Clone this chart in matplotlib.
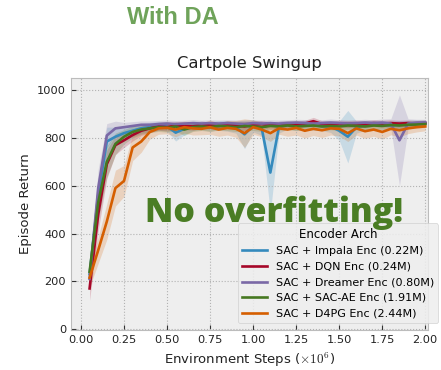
import matplotlib
matplotlib.use('Agg')
import matplotlib.pyplot as plt
import numpy as np

plt.style.use('bmh')

steps = [0.05, 0.10, 0.15, 0.20, 0.25, 0.30, 0.35, 0.40, 0.45, 0.50,
         0.55, 0.60, 0.65, 0.70, 0.75, 0.80, 0.85, 0.90, 0.95, 1.00,
         1.05, 1.10, 1.15, 1.20, 1.25, 1.30, 1.35, 1.40, 1.45, 1.50,
         1.55, 1.60, 1.65, 1.70, 1.75, 1.80, 1.85, 1.90, 1.95, 2.00]

impala_mean = [230, 560, 785, 805, 820, 830, 840, 845, 850, 848,
               822, 838, 850, 852, 848, 852, 850, 845, 815, 850,
               840, 655, 845, 855, 850, 855, 852, 850, 848, 830,
               805, 845, 852, 855, 855, 852, 855, 858, 860, 860]
impala_std = [40, 70, 60, 40, 30, 25, 20, 20, 18, 20,
              35, 25, 20, 18, 20, 20, 22, 25, 60, 25,
              30, 170, 25, 18, 20, 18, 20, 20, 25, 40,
              110, 25, 20, 18, 18, 18, 18, 16, 15, 15]

dqn_mean = [170, 480, 690, 770, 790, 812, 830, 840, 848, 845,
            852, 850, 848, 855, 852, 850, 855, 852, 848, 855,
            858, 852, 855, 858, 856, 860, 870, 858, 856, 860,
            858, 860, 858, 862, 860, 862, 860, 862, 860, 862]
dqn_std = [50, 70, 60, 40, 30, 25, 20, 18, 16, 16,
           15, 15, 16, 15, 15, 16, 15, 15, 18, 15,
           15, 16, 15, 14, 15, 14, 16, 14, 15, 14,
           15, 14, 15, 14, 14, 14, 14, 13, 13, 13]

dreamer_mean = [210, 590, 810, 840, 845, 850, 855, 855, 858, 860,
                858, 860, 862, 860, 862, 860, 862, 860, 858, 862,
                860, 862, 860, 862, 864, 862, 860, 862, 864, 862,
                860, 862, 864, 862, 864, 860, 790, 860, 864, 865]
dreamer_std = [40, 80, 50, 30, 20, 18, 16, 16, 15, 15,
               15, 14, 15, 14, 14, 15, 14, 15, 16, 14,
               15, 14, 15, 14, 14, 15, 14, 14, 15, 14,
               15, 14, 14, 14, 15, 20, 190, 20, 14, 13]

saeae_mean = [240, 530, 700, 775, 805, 825, 835, 840, 845, 842,
              848, 835, 845, 848, 845, 850, 848, 845, 850, 848,
              845, 850, 848, 852, 848, 850, 852, 848, 850, 848,
              852, 850, 848, 852, 850, 854, 852, 855, 856, 858]
saeae_std = [45, 75, 65, 45, 30, 25, 20, 18, 18, 18,
             18, 25, 18, 17, 18, 16, 17, 18, 18, 17,
             18, 17, 16, 16, 17, 16, 16, 17, 16, 17,
             16, 16, 17, 16, 16, 15, 16, 15, 14, 14]

d4pg_mean = [215, 330, 450, 590, 620, 760, 785, 825, 840, 842,
             835, 845, 840, 838, 845, 835, 842, 838, 820, 845,
             835, 820, 840, 835, 842, 830, 838, 832, 840, 838,
             820, 840, 828, 835, 825, 838, 832, 840, 845, 848]
d4pg_std = [40, 55, 75, 75, 65, 55, 45, 30, 25, 25,
            30, 25, 28, 25, 30, 28, 30, 35, 60, 30,
            30, 35, 25, 28, 30, 30, 28, 30, 28, 30,
            35, 28, 30, 28, 30, 25, 28, 22, 20, 18]

labels = ['SAC + Impala Enc (0.22M)', 'SAC + DQN Enc (0.24M)',
          'SAC + Dreamer Enc (0.80M)', 'SAC + SAC-AE Enc (1.91M)',
          'SAC + D4PG Enc (2.44M)']
means = [impala_mean, dqn_mean, dreamer_mean, saeae_mean, d4pg_mean]
stds = [impala_std, dqn_std, dreamer_std, saeae_std, d4pg_std]
colors = ['#348ABD', '#A60628', '#7A68A6', '#467821', '#D55E00']

fig = plt.figure(figsize=(4.41, 3.70), dpi=100)
fig.patch.set_facecolor('white')
ax = fig.add_axes([0.161, 0.108, 0.810, 0.682])

x = np.array(steps)
for m, s, c, lab in zip(means, stds, colors, labels):
    m = np.array(m, dtype=float)
    s = np.array(s, dtype=float)
    ax.fill_between(x, m - s, m + s, color=c, alpha=0.2, linewidth=0)
    ax.plot(x, m, color=c, linewidth=1.9, label=lab)

ax.set_xlim(-0.058, 2.017)
ax.set_ylim(-4, 1052)
ax.set_xticks([0.0, 0.25, 0.5, 0.75, 1.0, 1.25, 1.5, 1.75, 2.0])
ax.set_yticks([0, 200, 400, 600, 800, 1000])
ax.tick_params(labelsize=8.2, colors='#333333', labelcolor='#222222')
ax.grid(True, linestyle=':', color='#b2b2b2', linewidth=0.8)

ax.set_title('Cartpole Swingup', fontsize=11.8, pad=7, color='#222222')
ax.set_xlabel(r'Environment Steps ($\times 10^6$)', fontsize=9.5, color='#222222')
ax.set_ylabel('Episode Return', fontsize=9.5, color='#222222')

leg = ax.legend(title='Encoder Arch', loc='lower right',
                bbox_to_anchor=(1.028, 0.028), borderaxespad=0,
                fontsize=8, title_fontsize=8.5,
                labelspacing=0.5, handlelength=2.2, borderpad=0.4,
                framealpha=0.85)

# headline annotations
fig.text(0.392, 0.952, 'With DA', fontsize=17, fontweight='bold',
         color='#6fa35a', family='Liberation Sans', ha='center', va='center')
fig.text(0.621, 0.425, 'No overfitting!', fontsize=24.5, fontweight='heavy',
         color='#4a7d24', family='Open Sans', ha='center', va='center', zorder=10)

fig.savefig('out.png', dpi=100)
